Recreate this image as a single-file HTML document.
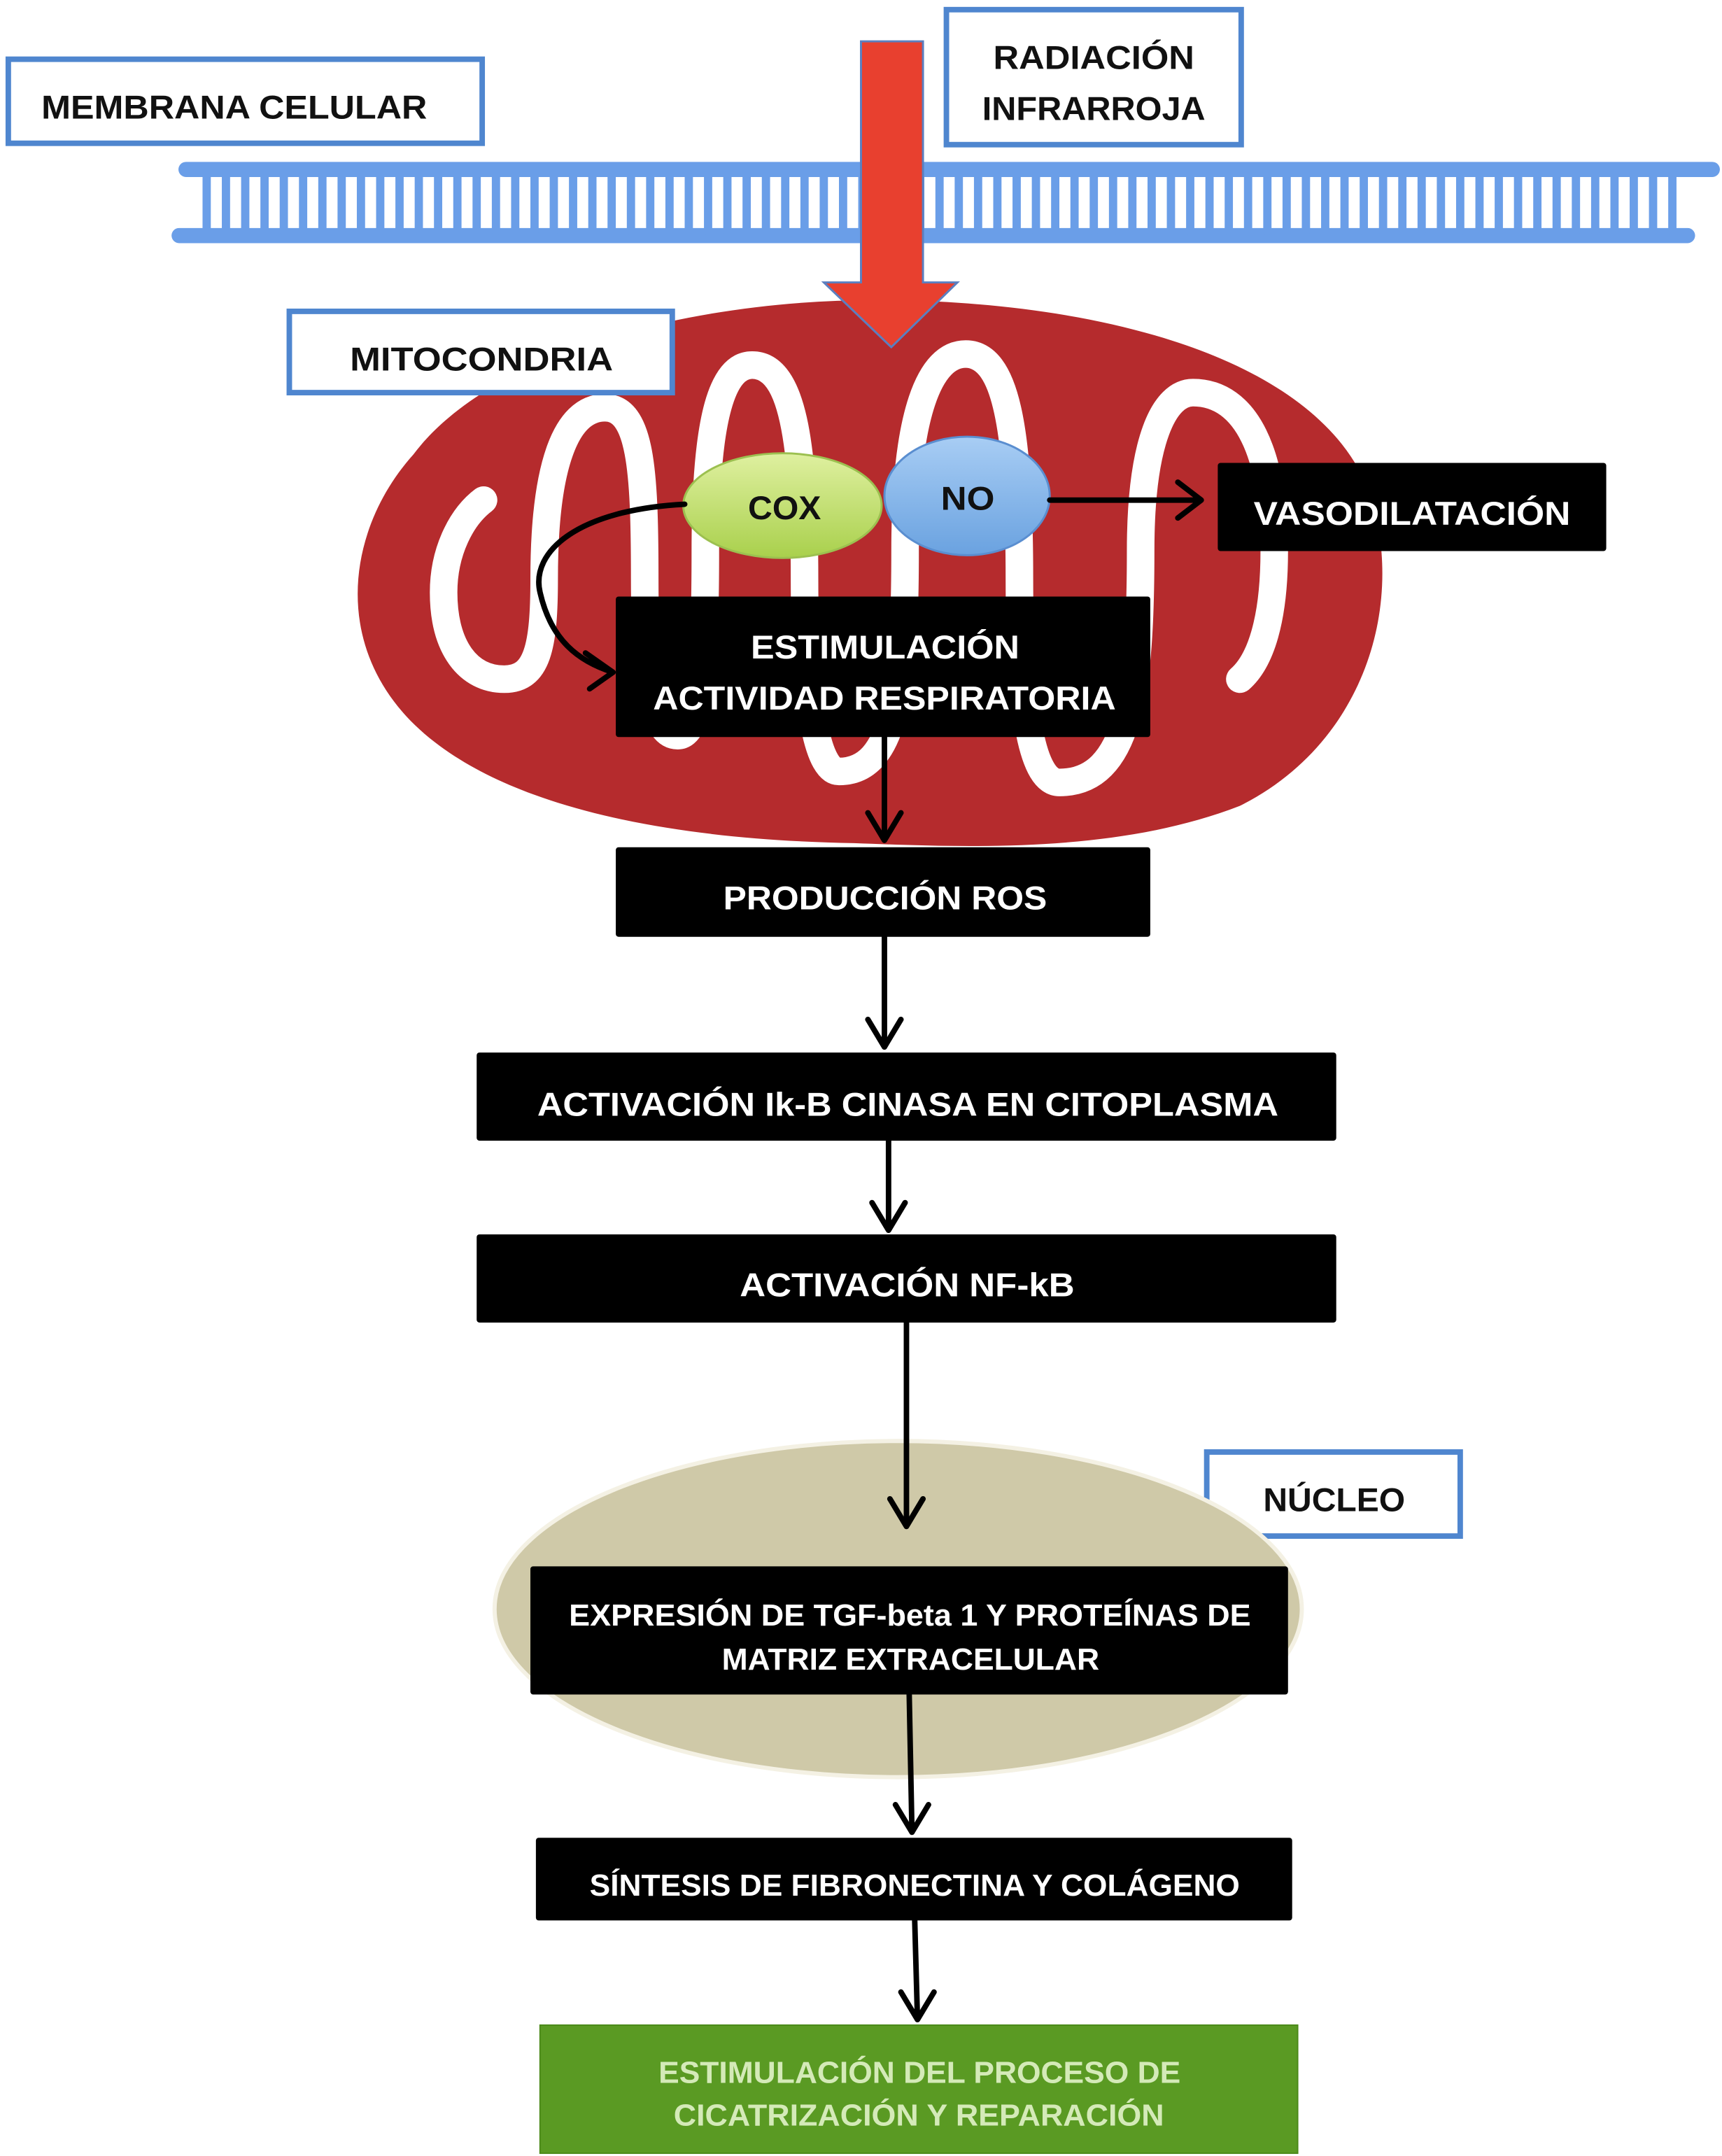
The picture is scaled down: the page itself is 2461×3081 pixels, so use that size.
<!DOCTYPE html>
<html><head><meta charset="utf-8"><style>html,body{margin:0;padding:0;background:#fff}svg{display:block}</style></head>
<body>
<svg width="2461" height="3081" viewBox="0 0 1250 1565" xmlns="http://www.w3.org/2000/svg" font-family="'Liberation Sans', sans-serif" font-weight="bold">
<defs>
<linearGradient id="gc" x1="0" y1="0" x2="0" y2="1"><stop offset="0" stop-color="#dff0a0"/><stop offset="1" stop-color="#a9d04c"/></linearGradient>
<linearGradient id="gn" x1="0" y1="0" x2="0" y2="1"><stop offset="0" stop-color="#a8cdf4"/><stop offset="1" stop-color="#6aa2e0"/></linearGradient>
</defs>
<!-- membrane -->
<g stroke="#6a9ee8" stroke-linecap="round">
<line x1="135" y1="123" x2="1243" y2="123" stroke-width="11"/>
<line x1="130" y1="171" x2="1225" y2="171" stroke-width="11"/>
<path stroke-width="6" d="M150 126V168M164 126V168M178 126V168M192 126V168M206 126V168M220 126V168M234 126V168M248 126V168M262 126V168M276 126V168M290 126V168M304 126V168M318 126V168M332 126V168M346 126V168M360 126V168M374 126V168M388 126V168M402 126V168M416 126V168M430 126V168M444 126V168M458 126V168M472 126V168M486 126V168M500 126V168M514 126V168M528 126V168M542 126V168M556 126V168M570 126V168M584 126V168M598 126V168M612 126V168M626 126V168M640 126V168M654 126V168M668 126V168M682 126V168M696 126V168M710 126V168M724 126V168M738 126V168M752 126V168M766 126V168M780 126V168M794 126V168M808 126V168M822 126V168M836 126V168M850 126V168M864 126V168M878 126V168M892 126V168M906 126V168M920 126V168M934 126V168M948 126V168M962 126V168M976 126V168M990 126V168M1004 126V168M1018 126V168M1032 126V168M1046 126V168M1060 126V168M1074 126V168M1088 126V168M1102 126V168M1116 126V168M1130 126V168M1144 126V168M1158 126V168M1172 126V168M1186 126V168M1200 126V168M1214 126V168"/>
</g>
<!-- mitochondria -->
<path d="M300 330 C360 250 520 215 650 218 C800 220 960 260 995 360 C1020 440 990 540 900 585 C810 620 700 615 620 612 C500 610 360 590 295 520 C240 460 255 380 300 330Z" fill="#b52b2d"/>
<path d="M351 363 C335 375 322 400 322 430 C322 470 340 493 366 493 C390 493 395 470 395 420 C395 340 410 296 439 296 C465 296 468 340 468 420 C468 500 475 534 492 534 C508 534 512 490 512 400 C512 300 525 265 546 265 C575 265 584 320 584 420 C584 520 595 560 609 560 C650 560 657 500 657 400 C657 300 675 257 701 257 C730 257 740 310 740 420 C740 520 750 568 769 568 C820 568 828 500 828 400 C828 320 845 285 866 285 C905 285 925 330 925 400 C925 450 915 480 900 493" fill="none" stroke="#fff" stroke-width="20" stroke-linecap="round"/>
<!-- red arrow -->
<path d="M625 30 H670 V205 H695 L647 252 L598 205 H625 Z" fill="#e8402f" stroke="#5b7fc0" stroke-width="1.5"/>
<!-- label boxes -->
<g fill="#fff" stroke="#4f86cf" stroke-width="4">
<rect x="6" y="43" width="344" height="61"/>
<rect x="687" y="7" width="214" height="98"/>
<rect x="210" y="226" width="278" height="59"/>
<rect x="876" y="1054" width="184" height="61"/>
</g>
<g fill="#111" font-size="24">
<text x="30" y="86" textLength="280" lengthAdjust="spacingAndGlyphs">MEMBRANA CELULAR</text>
<text x="721" y="50" textLength="146" lengthAdjust="spacingAndGlyphs">RADIACIÓN</text>
<text x="713" y="87" textLength="162" lengthAdjust="spacingAndGlyphs">INFRARROJA</text>
<text x="254" y="269" textLength="191" lengthAdjust="spacingAndGlyphs">MITOCONDRIA</text>
<text x="917" y="1097" textLength="103" lengthAdjust="spacingAndGlyphs">NÚCLEO</text>
</g>
<!-- COX / NO -->
<ellipse cx="568" cy="367" rx="72" ry="38" fill="url(#gc)" stroke="#9cc050" stroke-width="1.5"/>
<ellipse cx="702" cy="360" rx="60" ry="43" fill="url(#gn)" stroke="#5a8ed0" stroke-width="1.5"/>
<text x="543" y="377" font-size="24" fill="#111" textLength="53" lengthAdjust="spacingAndGlyphs">COX</text>
<text x="683" y="370" font-size="24" fill="#111" textLength="39" lengthAdjust="spacingAndGlyphs">NO</text>
<!-- nucleus -->
<ellipse cx="652" cy="1168" rx="293" ry="122" fill="#cfc9a8" stroke="#f4f1e4" stroke-width="3"/>
<!-- connectors -->
<g fill="none" stroke="#000" stroke-width="4" stroke-linecap="round" stroke-linejoin="round">
<path d="M762 363 H872 M855 350 L872 363 L855 376"/>
<path d="M497 366 C420 370 385 400 392 430 C400 465 420 480 445 488 M425 474 L445 488 L428 500"/>
<path d="M642 535 V610 M630 590 L642 610 L654 590"/>
<path d="M642 680 V760 M630 740 L642 760 L654 740"/>
<path d="M645 828 V893 M633 873 L645 893 L657 873"/>
<path d="M658 960 V1108 M646 1088 L658 1108 L670 1088"/>
<path d="M660 1230 L662 1330 M650 1310 L662 1330 L674 1310"/>
<path d="M664 1394 L666 1466 M654 1446 L666 1466 L678 1446"/>
</g>
<!-- black boxes -->
<g fill="#000">
<rect x="884" y="336" width="282" height="64" rx="2"/>
<rect x="447" y="433" width="388" height="102" rx="2"/>
<rect x="447" y="615" width="388" height="65" rx="2"/>
<rect x="346" y="764" width="624" height="64" rx="2"/>
<rect x="346" y="896" width="624" height="64" rx="2"/>
<rect x="385" y="1137" width="550" height="93" rx="2"/>
<rect x="389" y="1334" width="549" height="60" rx="2"/>
</g>
<rect x="392" y="1470" width="550" height="93" fill="#5a9a23" stroke="#4c8a1a" stroke-width="1"/>
<g fill="#fff" font-size="24">
<text x="910" y="381" textLength="230" lengthAdjust="spacingAndGlyphs">VASODILATACIÓN</text>
<text x="545" y="478" textLength="195" lengthAdjust="spacingAndGlyphs">ESTIMULACIÓN</text>
<text x="474" y="515" textLength="336" lengthAdjust="spacingAndGlyphs">ACTIVIDAD RESPIRATORIA</text>
<text x="525" y="660" textLength="235" lengthAdjust="spacingAndGlyphs">PRODUCCIÓN ROS</text>
<text x="390" y="810" textLength="538" lengthAdjust="spacingAndGlyphs">ACTIVACIÓN Ik-B CINASA EN CITOPLASMA</text>
<text x="537" y="941" textLength="243" lengthAdjust="spacingAndGlyphs">ACTIVACIÓN NF-kB</text>
<text x="413" y="1180" font-size="22" textLength="495" lengthAdjust="spacingAndGlyphs">EXPRESIÓN DE TGF-beta 1 Y PROTEÍNAS DE</text>
<text x="524" y="1212" font-size="22" textLength="274" lengthAdjust="spacingAndGlyphs">MATRIZ EXTRACELULAR</text>
<text x="428" y="1376" font-size="22" textLength="472" lengthAdjust="spacingAndGlyphs">SÍNTESIS DE FIBRONECTINA Y COLÁGENO</text>
</g>
<g fill="#d4eab8" font-size="22">
<text x="478" y="1512" textLength="379" lengthAdjust="spacingAndGlyphs">ESTIMULACIÓN DEL PROCESO DE</text>
<text x="489" y="1543" textLength="356" lengthAdjust="spacingAndGlyphs">CICATRIZACIÓN Y REPARACIÓN</text>
</g>
</svg>
</body></html>
